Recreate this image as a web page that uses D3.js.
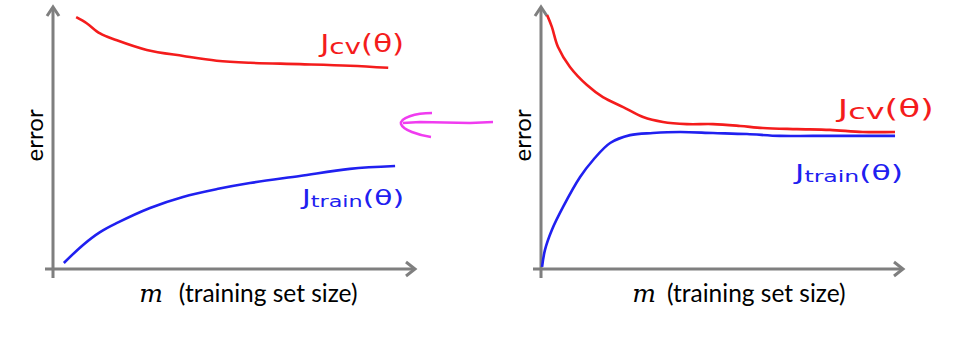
<!DOCTYPE html>
<html>
<head>
  <meta charset="utf-8">
  <script src="https://cdn.jsdelivr.net/npm/d3@7"></script>
  <style>
    body { margin: 0; background: #fff; }
  </style>
</head>
<body>
  <svg id="chart" width="966" height="345"></svg>
  <script>
    // left panel: high variance (gap stays large)
    let leftCvX    = [6.4, 9.3, 13.0, 17.4, 25.9, 36.0, 45.2, 54.4, 68.2, 82.0, 92.6]
    let leftCvY    = [96.1, 93.8, 89.9, 87.4, 83.6, 81.3, 79.5, 78.7, 78.2, 77.6, 76.8]
    let leftTrainX = [3.0, 8.3, 13.0, 17.7, 26.8, 35.9, 45.3, 54.4, 68.2, 82.0, 94.5]
    let leftTrainY = [2.3, 9.2, 14.1, 17.6, 23.3, 27.5, 30.5, 32.8, 35.5, 38.2, 39.3]

    // right panel: high bias (curves meet early)
    let rightCvX    = [1.7, 3.0, 4.7, 8.0, 12.7, 17.1, 22.7, 28.2, 33.7, 40.3, 47.5, 55.0, 61.3, 70.7, 79.8, 88.9, 97.8]
    let rightCvY    = [96.9, 92.4, 84.7, 77.1, 70.2, 65.6, 61.8, 58.0, 56.1, 55.3, 55.3, 54.6, 53.8, 53.4, 53.1, 52.3, 52.3]
    let rightTrainX = [0.3, 1.1, 3.0, 6.1, 10.8, 14.4, 19.1, 24.6, 30.9, 38.4, 47.5, 56.9, 66.0, 75.1, 97.8]
    let rightTrainY = [0.8, 7.3, 14.9, 23.7, 35.1, 41.6, 48.1, 51.1, 51.9, 52.3, 51.9, 51.5, 50.8, 50.8, 50.8]

    let yLabel = "error"
    let xLabel = "(training set size)"

    let svg = d3.select("#chart")
    let gray = "#7f7f7f"
    let red = "#f41c1c"
    let blue = "#2020f0"

    let scX = d3.scaleLinear().domain([0, 100]).range([0, 362])
    let scY = d3.scaleLinear().domain([0, 100]).range([262, 0])

    function zip(xs, ys) { return xs.map((x, i) => [x, ys[i]]) }

    let line = d3.line()
                 .x(d => scX(d[0]))
                 .y(d => scY(d[1]))
                 .curve(d3.curveCatmullRom)

    function panel(ox, cv, train, cvLab, trLab, xlStart, xlGap) {
      let g = svg.append("g").attr("transform", `translate(${ox},7)`)

      // axes
      g.append("line").attr("x1", -8).attr("y1", scY(0)).attr("x2", scX(100)).attr("y2", scY(0))
       .attr("stroke", gray).attr("stroke-width", 3)
      g.append("line").attr("x1", 0).attr("y1", scY(0) + 9).attr("x2", 0).attr("y2", scY(100) + 1)
       .attr("stroke", gray).attr("stroke-width", 3)
      g.append("path")
       .attr("d", `M${scX(100) - 9},${scY(0) - 7} L${scX(100)},${scY(0)} L${scX(100) - 9},${scY(0) + 7}`)
       .attr("fill", "none").attr("stroke", gray).attr("stroke-width", 3)
      g.append("path")
       .attr("d", `M-6,${scY(100) + 9} L0,${scY(100)} L6,${scY(100) + 9}`)
       .attr("fill", "none").attr("stroke", gray).attr("stroke-width", 3)

      g.append("path").datum(cv).attr("d", line)
       .attr("fill", "none").attr("stroke", red).attr("stroke-width", 2.6)
      g.append("path").datum(train).attr("d", line)
       .attr("fill", "none").attr("stroke", blue).attr("stroke-width", 2.6)

      // y label
      g.append("text")
       .attr("transform", `translate(-10,${scY(51)}) rotate(-90)`)
       .attr("text-anchor", "middle")
       .attr("font-family", "Lato, 'Open Sans', sans-serif")
       .attr("font-size", 24)
       .attr("fill", "#000")
       .text(yLabel)

      // x label
      let xl = g.append("text")
       .attr("x", scX(xlStart)).attr("y", 295)
       .attr("font-family", "Lato, 'Open Sans', sans-serif")
       .attr("font-size", 24.5)
       .attr("fill", "#000")
      xl.append("tspan").attr("font-family", "'DejaVu Serif', serif").attr("font-style", "italic")
        .attr("font-size", 25).text("m")
      xl.append("tspan").attr("dx", xlGap).text(xLabel)

      // curve labels, stretched to the hand-written width
      function lab(p, color, sub, size, w, subScale) {
        let t = g.append("text").attr("x", scX(p[0])).attr("y", scY(p[1]))
                 .attr("font-family", "'DejaVu Sans', sans-serif")
                 .attr("font-size", size).attr("fill", color)
                 .attr("textLength", w).attr("lengthAdjust", "spacingAndGlyphs")
        t.append("tspan").text("J")
        t.append("tspan").attr("font-size", size * subScale).attr("dy", 2).text(sub)
        t.append("tspan").attr("dy", -2).text("(θ)")
      }
      lab(cvLab, red, "cv", 24, cvLab[2], 0.9)
      lab(trLab, blue, "train", 21, trLab[2], 0.75)
    }

    panel(53, zip(leftCvX, leftCvY), zip(leftTrainX, leftTrainY), [73.8, 82.8, 84], [68.8, 24.4, 102], 23.8, 16)
    panel(541, zip(rightCvX, rightCvY), zip(rightTrainX, rightTrainY), [82.0, 58.0, 96], [70.2, 34.0, 108], 25.2, 11)

    // magenta arrow between the panels
    svg.append("path")
       .attr("d", "M493,122 L470,123 L420,122 L403,123")
       .attr("fill", "none").attr("stroke", "#f03cf0").attr("stroke-width", 2.5)
    svg.append("path")
       .attr("d", "M432,113 C415,113 400,118 401,124 C403,130 418,135 431,137")
       .attr("fill", "none").attr("stroke", "#f03cf0").attr("stroke-width", 2.5)
  </script>
</body>
</html>
